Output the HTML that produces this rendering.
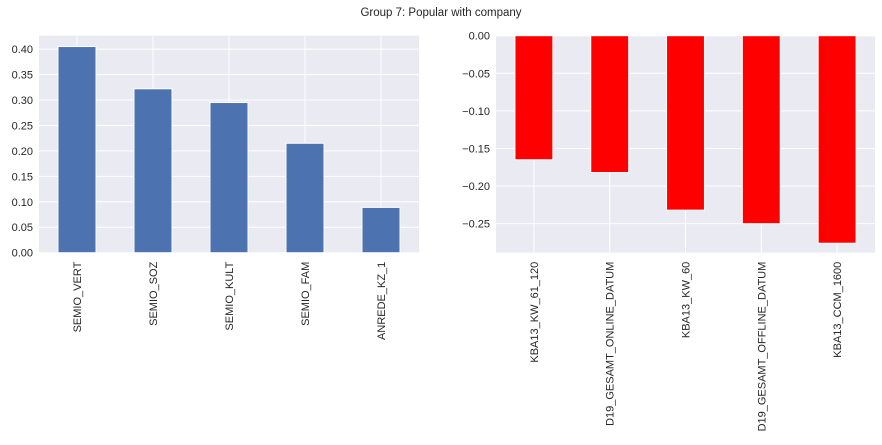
<!DOCTYPE html>
<html><head><meta charset="utf-8"><style>
body{margin:0;background:#fff;width:882px;height:440px;overflow:hidden}
svg text{font-family:"Liberation Sans",sans-serif;fill:#262626}
</style></head><body>
<svg id="chart" width="882" height="440">
<text x="441" y="16" font-size="11.5" text-anchor="middle">Group 7: Popular with company</text>
</svg>
<script>
const leftCats=["SEMIO_VERT","SEMIO_SOZ","SEMIO_KULT","SEMIO_FAM","ANREDE_KZ_1"];
const leftVals=[0.405,0.322,0.295,0.215,0.089];
const leftTicks=[0,0.05,0.10,0.15,0.20,0.25,0.30,0.35,0.40];
const rightCats=["KBA13_KW_61_120","D19_GESAMT_ONLINE_DATUM","KBA13_KW_60","D19_GESAMT_OFFLINE_DATUM","KBA13_CCM_1600"];
const rightVals=[-0.165,-0.182,-0.232,-0.250,-0.276];
const rightTicks=[0,-0.05,-0.10,-0.15,-0.20,-0.25];
const NS="http://www.w3.org/2000/svg";
const svg=document.getElementById('chart');
function mk(tag,attrs,parent){const e=document.createElementNS(NS,tag);for(const k in attrs)e.setAttribute(k,attrs[k]);(parent||svg).appendChild(e);return e;}
function panel(name,x0,x1,y0,y1,ymin,ymax,cats,vals,ticks,color){
  const g=mk('g',{});
  
  
  const bg=mk('rect',{x:x0,y:y0,width:x1-x0,height:y1-y0,fill:'#eaeaf2'},g);
  
  
  const ys=v=>y1-(v-ymin)/(ymax-ymin)*(y1-y0);
  const step=(x1-x0)/cats.length;
  const xs=i=>x0+step*(i+0.5);
  ticks.forEach(t=>{
    const y=ys(t);
    const gl=mk('line',{x1:x0,x2:x1,y1:y,y2:y,stroke:'#fff','stroke-width':1},g);
    
    
    const tx=mk('text',{x:x0-6,y:y+4,'font-size':11,'text-anchor':'end'},g);
    tx.textContent=t<0?'\u2212'+Math.abs(t).toFixed(2):t.toFixed(2);
    
    
  });
  cats.forEach((c,i)=>{
    const x=xs(i);
    const gl=mk('line',{x1:x,x2:x,y1:y0,y2:y1,stroke:'#fff','stroke-width':1},g);
    
    
  });
  cats.forEach((c,i)=>{
    const x=xs(i),w=step*0.5,v=vals[i];
    const ya=ys(Math.max(v,0)),yb=ys(Math.min(v,0));
    const r=mk('rect',{x:x-w/2,y:ya,width:w,height:yb-ya,fill:color,stroke:'#fff','stroke-width':1},g);
    
    
    const t=mk('text',{x:0,y:0,'font-size':11,'text-anchor':'end',transform:`translate(${x+4},${y1+9}) rotate(-90)`},g);
    t.textContent=c;
    
    
  });
}
panel('left-bar-chart',39,419,35.7,252.7,0,0.4263,leftCats,leftVals,leftTicks,'#4c72b0');
panel('right-bar-chart',496,875,35.7,252.7,-0.2886,0,rightCats,rightVals,rightTicks,'#ff0000');
</script>
</body></html>
